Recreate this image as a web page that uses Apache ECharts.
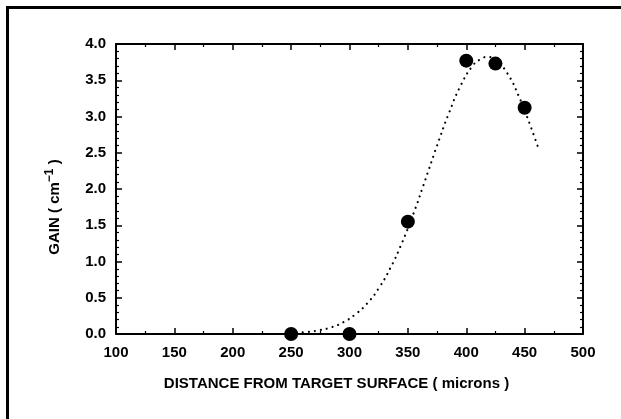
<!DOCTYPE html>
<html>
<head>
<meta charset="utf-8">
<script src="https://cdn.jsdelivr.net/npm/echarts@6/dist/echarts.min.js"></script>
<style>
  html, body { margin: 0; padding: 0; background: #fff; }
  #frame { position: absolute; left: 6px; top: 6px; width: 615px; height: 413px;
           border-top: 3px solid #000; border-left: 3px solid #000; box-sizing: border-box; }
  #chart { position: absolute; left: 0; top: 0; width: 621px; height: 419px; }
</style>
</head>
<body>
<div id="frame"></div>
<div id="chart"></div>
<script>
// Measured gain at each distance (microns, cm^-1)
const distance = [250, 300, 350, 400, 425, 450];
const gain = [0.0, 0.0, 1.55, 3.77, 3.73, 3.12];

// Fitted profile through the measurements
const fitDistance = [255, 265, 275, 285, 295, 305, 315, 325, 335, 345, 355, 365, 375, 385, 395, 405, 412, 418, 425, 435, 445, 455, 462];
const fitGain = [0.015, 0.03, 0.055, 0.095, 0.165, 0.27, 0.42, 0.63, 0.91, 1.26, 1.67, 2.13, 2.6, 3.04, 3.42, 3.69, 3.79, 3.82, 3.78, 3.6, 3.28, 2.87, 2.55];

const xTicks = [100, 150, 200, 250, 300, 350, 400, 450, 500];
const yTicks = [0.0, 0.5, 1.0, 1.5, 2.0, 2.5, 3.0, 3.5, 4.0];

const FONT = 'Liberation Sans';
const labelStyle = { color: '#000', fontFamily: FONT, fontSize: 15, fontWeight: 'bold' };
const axisLine = { show: true, onZero: false, lineStyle: { color: '#000', width: 2 } };
const tickIn = { show: true, inside: true, length: 6, lineStyle: { color: '#000', width: 1.5 } };

function xAxis(pos, labels) {
  return {
    type: 'value', position: pos, min: xTicks[0], max: xTicks[xTicks.length - 1], interval: 50,
    axisLine: axisLine, axisTick: tickIn,
    minorTick: { show: true, splitNumber: 2, length: 3, lineStyle: { color: '#000', width: 1.2 } },
    splitLine: { show: false },
    axisLabel: labels ? Object.assign({ margin: 11, formatter: v => String(v) }, labelStyle) : { show: false }
  };
}
function yAxis(pos, labels) {
  return {
    type: 'value', position: pos, min: yTicks[0], max: yTicks[yTicks.length - 1], interval: 0.5,
    axisLine: axisLine, axisTick: tickIn,
    minorTick: { show: true, splitNumber: 5, length: 3, lineStyle: { color: '#000', width: 1.2 } },
    splitLine: { show: false },
    axisLabel: labels ? Object.assign({ margin: 10, formatter: v => v.toFixed(1) }, labelStyle) : { show: false }
  };
}

const chart = echarts.init(document.getElementById('chart'), null, { renderer: 'canvas' });
const xa0 = xAxis('bottom', true);
xa0.name = 'DISTANCE FROM TARGET SURFACE ( microns )';
xa0.nameLocation = 'middle';
xa0.nameGap = 42;
xa0.nameTextStyle = { color: '#000', fontFamily: FONT, fontSize: 15, fontWeight: 'bold', padding: [0, 26, 0, 0] };
const ya0 = yAxis('left', true);
ya0.name = '{t|GAIN ( cm}{s|−1}{t| )}';
ya0.nameLocation = 'middle';
ya0.nameGap = 50;
ya0.nameTextStyle = {
  color: '#000', fontFamily: FONT, fontSize: 15, fontWeight: 'bold', padding: [0, 36, 0, 0],
  rich: {
    t: { fontFamily: FONT, fontSize: 15, fontWeight: 'bold', color: '#000', lineHeight: 22 },
    s: { fontFamily: FONT, fontSize: 12, fontWeight: 'bold', color: '#000', verticalAlign: 'top', lineHeight: 22, padding: [0, 0, 7, 0] }
  }
};

chart.setOption({
  animation: false,
  backgroundColor: 'transparent',
  grid: { left: 116, right: 38, top: 44, bottom: 85 },
  xAxis: [xa0, xAxis('top', false)],
  yAxis: [ya0, yAxis('right', false)],
  series: [
    {
      type: 'line', xAxisIndex: 0, yAxisIndex: 0,
      data: fitDistance.map((d, i) => [d, fitGain[i]]),
      smooth: true, showSymbol: false,
      lineStyle: { color: '#000', width: 2.2, type: [0.01, 6], cap: 'round' },
      z: 2
    },
    {
      type: 'scatter', xAxisIndex: 0, yAxisIndex: 0,
      data: distance.map((d, i) => [d, gain[i]]),
      symbol: 'circle', symbolSize: 14,
      itemStyle: { color: '#000', opacity: 1 },
      z: 3
    }
  ]
});
</script>
</body>
</html>
